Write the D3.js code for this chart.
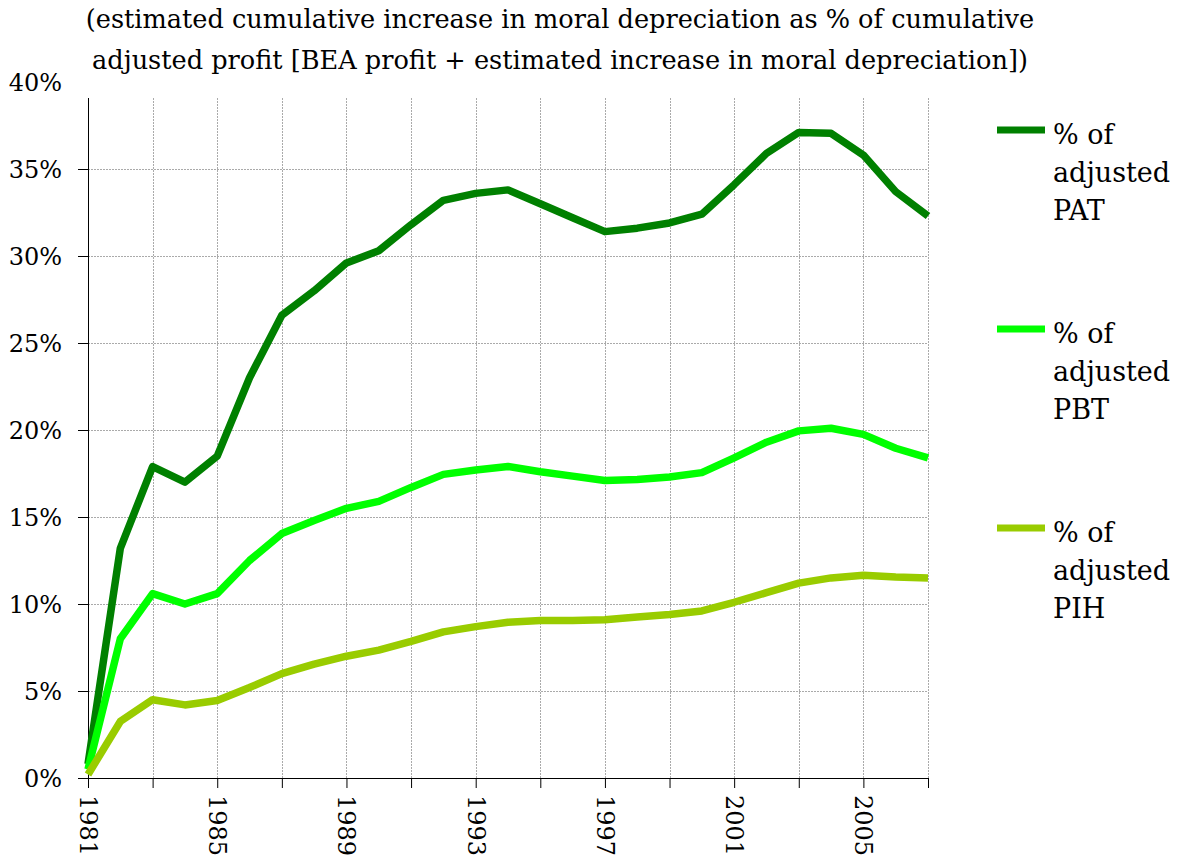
<!DOCTYPE html>
<html>
<head>
<meta charset="utf-8">
<script src="https://cdn.jsdelivr.net/npm/d3@7"></script>
<style>
  body { margin: 0; background: #fff; }
</style>
</head>
<body>
<svg width="1180" height="860"></svg>
<script>
// data
const years = d3.range(1981, 2008);
const pat = [0.8, 13.2, 17.9, 17.0, 18.5, 23.0, 26.6, 28.0, 29.6, 30.3, 31.8, 33.2, 33.6, 33.8, 33.0, 32.2, 31.4, 31.6, 31.9, 32.4, 34.1, 35.9, 37.1, 37.05, 35.8, 33.7, 32.3];
const pbt = [0.5, 8.0, 10.6, 10.0, 10.6, 12.5, 14.05, 14.8, 15.5, 15.9, 16.7, 17.45, 17.7, 17.9, 17.6, 17.35, 17.1, 17.15, 17.3, 17.55, 18.4, 19.3, 19.95, 20.1, 19.75, 18.95, 18.4];
const pih = [0.2, 3.25, 4.5, 4.2, 4.45, 5.2, 6.0, 6.55, 7.0, 7.35, 7.85, 8.4, 8.7, 8.95, 9.05, 9.05, 9.1, 9.25, 9.4, 9.6, 10.1, 10.65, 11.2, 11.5, 11.65, 11.55, 11.5];
const seriesNames = ["PAT", "PBT", "PIH"];
const seriesColors = ["#008000", "#00ff00", "#99cc00"];
const yTicks = [0, 5, 10, 15, 20, 25, 30, 35, 40];
const titleLines = [
  "(estimated cumulative increase in moral depreciation as % of cumulative",
  "adjusted profit [BEA profit + estimated increase in moral depreciation])"
];

const font = "'DejaVu Serif', serif";
const series = [pat, pbt, pih];
const svg = d3.select("svg");

const plot = {left: 88, right: 928, top: 98, bottom: 778};
const x = d3.scaleLinear().domain([1981, 2007]).range([plot.left, plot.right]);
const y = d3.scaleLinear().domain([0, 40]).range([plot.bottom, 82]);

// title
svg.selectAll(".title").data(titleLines).enter().append("text")
  .attr("x", 560).attr("y", (d, i) => 28 + i * 41)
  .attr("text-anchor", "middle").style("font-size", "25.6px").style("font-family", font).text(d => d);

// grid
const grid = svg.append("g").attr("stroke", "#aaa").attr("stroke-dasharray", "2,1").attr("stroke-width", 1);
grid.selectAll(".hg").data(yTicks.filter(d => d > 0 && d < 40)).enter().append("line")
  .attr("x1", plot.left).attr("x2", plot.right)
  .attr("y1", d => Math.round(y(d)) + 0.5).attr("y2", d => Math.round(y(d)) + 0.5);
grid.selectAll(".vg").data(years.filter(d => (d - 1981) % 2 === 0 && d > 1981)).enter().append("line")
  .attr("x1", d => Math.round(x(d)) + 0.5).attr("x2", d => Math.round(x(d)) + 0.5)
  .attr("y1", plot.top).attr("y2", plot.bottom);

// y axis (the 40% label sits above the clipped plot top, without tick)
const yAxis = svg.append("g").attr("transform", `translate(${plot.left},0)`)
  .call(d3.axisLeft(y).tickValues(yTicks.filter(d => d < 40)).tickSize(10).tickPadding(16).tickFormat(d => d + "%"));
yAxis.select(".domain").remove();
svg.append("line").attr("x1", plot.left + 0.5).attr("x2", plot.left + 0.5)
  .attr("y1", plot.top).attr("y2", plot.bottom).attr("stroke", "#000");
svg.append("text").attr("x", plot.left - 26).attr("y", y(40)).attr("dy", "0.36em")
  .attr("text-anchor", "end").style("font-size", "24px").style("font-family", font).text("40%");

// x axis
const xAxis = svg.append("g").attr("transform", `translate(0,${plot.bottom})`)
  .call(d3.axisBottom(x).tickValues(years.filter(d => (d - 1981) % 2 === 0)).tickSize(10).tickFormat(d => (d - 1981) % 4 === 0 ? d : ""));
xAxis.select(".domain").attr("d", `M${plot.left},0.5H${plot.right}`);
xAxis.selectAll("text").attr("transform", "rotate(90)").attr("text-anchor", "start")
  .attr("x", 17).attr("y", 0).attr("dy", "0.36em");

svg.selectAll(".tick text").style("font-size", "24px").style("font-family", font).attr("fill", "#000");
svg.selectAll(".tick line").attr("stroke", "#000");
yAxis.selectAll(".tick text").attr("dy", "0.36em");

// lines
const line = d3.line().x((d, i) => x(years[i])).y(d => y(d));
svg.selectAll(".series").data(series).enter().append("path")
  .attr("fill", "none").attr("stroke", (d, i) => seriesColors[i]).attr("stroke-width", 7.5)
  .attr("stroke-linejoin", "round").attr("d", line);

// legend
const legend = svg.selectAll(".legend").data(seriesNames).enter().append("g")
  .attr("transform", (d, i) => `translate(997,${130 + i * 199})`);
legend.append("line").attr("x1", 0).attr("x2", 48).attr("y1", 0).attr("y2", 0)
  .attr("stroke", (d, i) => seriesColors[i]).attr("stroke-width", 7);
legend.each(function (d) {
  const t = d3.select(this).append("text").attr("x", 56).attr("y", 14)
    .style("font-size", "27px").style("font-family", font);
  ["% of", "adjusted", d].forEach((s, j) => t.append("tspan").attr("x", 56).attr("dy", j === 0 ? 0 : 38).text(s));
});
</script>
</body>
</html>
